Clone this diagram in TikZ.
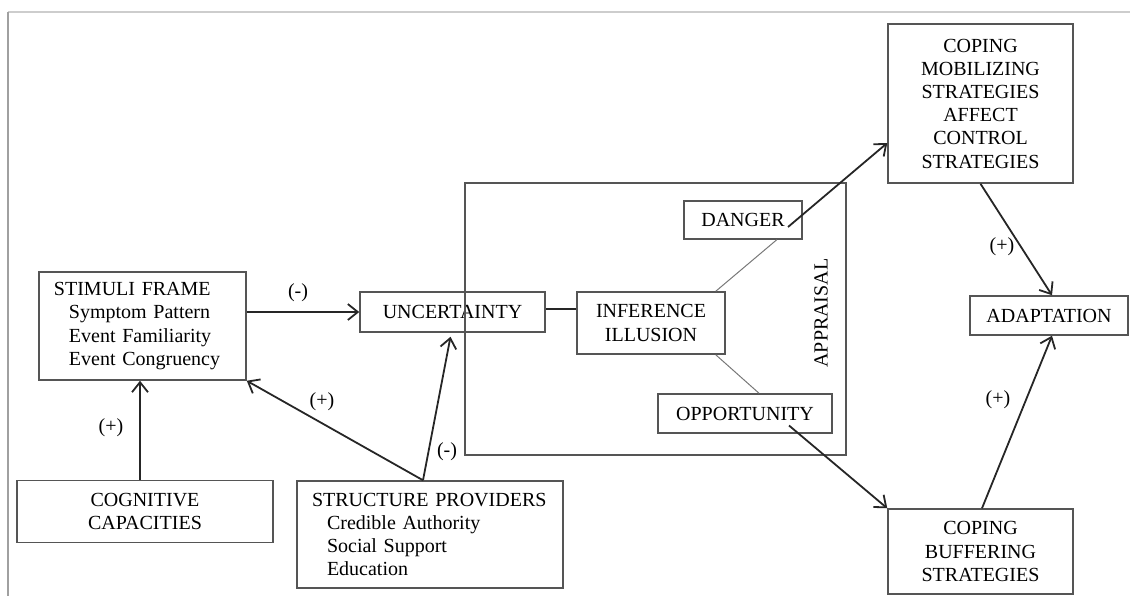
\documentclass[tikz,border=0pt]{standalone}
\usepackage{fontspec}
\setmainfont{Liberation Serif}
\usetikzlibrary{arrows.meta}
\definecolor{boxgray}{RGB}{85,85,85}
\definecolor{framegray}{RGB}{205,205,205}
\definecolor{edgegray}{RGB}{160,160,160}
\definecolor{linkgray}{RGB}{120,120,120}
\begin{document}
\begin{tikzpicture}[x=0.5pt,y=-0.5pt,font=\fontsize{10}{11.6}\selectfont]

    \tikzset{boxstyle/.style={draw=boxgray,line width=0.75pt,inner sep=0pt,align=center},
             leftbox/.style={boxstyle,align=left,inner xsep=7.5pt,text width=#1},
             arr/.style={-{Straight Barb[length=5pt,width=8pt]},line width=0.9pt,draw=black!85},
             sign/.style={inner sep=0pt}}
    \useasboundingbox (0,0) rectangle (1130,596);
    \draw[framegray,line width=0.6pt] (1130,12) -- (8,12);
    \draw[edgegray,line width=0.9pt] (8,12) -- (8,596);

    \node[leftbox=88.5pt,minimum width=103.5pt,minimum height=54pt] (stim) at (142.5,326)
        {STIMULI FRAME\\\hspace*{7.5pt}Symptom Pattern\\\hspace*{7.5pt}Event Familiarity\\\hspace*{7.5pt}Event Congruency};
    \node[boxstyle,minimum width=128pt,minimum height=31pt] (cog) at (145,511.5) {COGNITIVE\\CAPACITIES};
    \node[leftbox=118pt,minimum width=133pt,minimum height=53.5pt] (struct) at (430,534.5)
        {STRUCTURE PROVIDERS\\\hspace*{7.5pt}Credible Authority\\\hspace*{7.5pt}Social Support\\\hspace*{7.5pt}Education};
    \node[boxstyle,minimum width=92.5pt,minimum height=20pt] (unc) at (452.5,312) {UNCERTAINTY};

    \node[boxstyle,minimum width=190.5pt,minimum height=136pt] (appr) at (655.5,319) {};
    \node[rotate=90,sign] (apprlabel) at (821,313) {APPRAISAL};
    \node[boxstyle,minimum width=59pt,minimum height=19pt] (danger) at (743,220) {DANGER};
    \node[boxstyle,minimum width=74pt,minimum height=31pt] (infer) at (651,323) {INFERENCE\\ILLUSION};
    \node[boxstyle,minimum width=87pt,minimum height=19.5pt] (opp) at (745,413.5) {OPPORTUNITY};

    \node[boxstyle,minimum width=92.5pt,minimum height=79.5pt] (mob) at (980.5,103.5)
        {COPING\\MOBILIZING\\STRATEGIES\\AFFECT\\CONTROL\\STRATEGIES};
    \node[boxstyle,minimum width=79pt,minimum height=19.5pt] (adapt) at (1049,315.5) {ADAPTATION};
    \node[boxstyle,minimum width=92.5pt,minimum height=42.5pt] (buff) at (980.5,551.5)
        {COPING\\BUFFERING\\STRATEGIES};

    % arrow ends
    \coordinate (sp) at ([xshift=-3.5pt]struct.north);
    \coordinate (dg) at ([xshift=22.5pt,yshift=-3.5pt]danger.center);
    \coordinate (op) at ([xshift=22pt,yshift=-6pt]opp.center);

    \begin{scope}[every path/.style={arr}]
        \draw (stim.east |- unc.west) -- (unc.west);
        \draw ([xshift=-2.5pt]cog.north) -- ([xshift=-2.5pt]cog.north |- stim.south);
        \draw (sp) -- (stim.south east);
        \draw (sp) -- ([xshift=-1pt,yshift=-2pt]unc.south);
        \draw (dg) -- ([yshift=-19.75pt]mob.west);
        \draw (op) -- (buff.north west);
        \draw (mob.south) -- ([xshift=1.5pt]adapt.north);
        \draw ([xshift=0.75pt]buff.north) -- ([xshift=1.5pt]adapt.south);
    \end{scope}

    \draw[line width=0.9pt,black!85] ([yshift=1.5pt]unc.east) -- ([yshift=1.5pt]unc.east -| infer.west);
    \draw[linkgray,line width=0.5pt] ([xshift=-5pt]infer.north east) -- ([xshift=-13pt]danger.south east);
    \draw[linkgray,line width=0.5pt] ([xshift=-5pt]infer.south east) -- ([xshift=7pt]opp.north);

    \node[sign] (s1) at (298,293) {(-)};
    \node[sign] (s2) at (111,428) {(+)};
    \node[sign] (s3) at (322,402) {(+)};
    \node[sign] (s4) at (447,452) {(-)};
    \node[sign] (s5) at (1002,247) {(+)};
    \node[sign] (s6) at (998,400) {(+)};
\end{tikzpicture}
\end{document}
